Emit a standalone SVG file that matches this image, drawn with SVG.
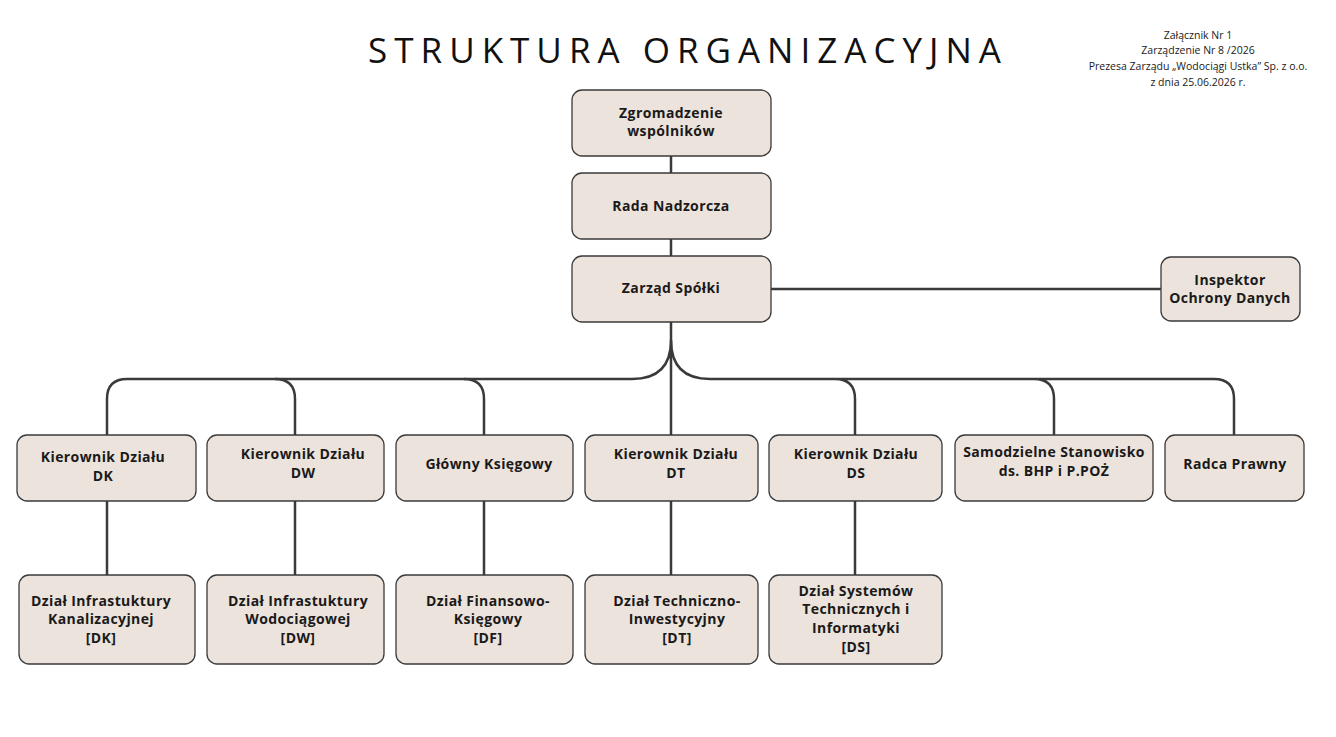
<svg xmlns="http://www.w3.org/2000/svg" width="1336" height="737" viewBox="0 0 1336 737">
<style>
.b{fill:#ece3dc;stroke:#3a3a3a;stroke-width:1.3}
.t{font-family:"Open Sans","DejaVu Sans",sans-serif;font-weight:bold;font-size:14px;fill:#1a1a1a;text-anchor:middle;letter-spacing:0.4px}
.c{fill:none;stroke:#3a3a3a;stroke-width:2.5}
.n{font-family:"Open Sans","DejaVu Sans",sans-serif;font-size:10.5px;fill:#1a1a1a;text-anchor:middle}
</style>
<rect width="1336" height="737" fill="#fff"/>
<text x="688" y="63" style="font-family:'Open Sans','DejaVu Sans',sans-serif;font-size:35px;letter-spacing:7px;fill:#111" text-anchor="middle">STRUKTURA ORGANIZACYJNA</text>
<text class="n"><tspan x="1198" y="39">Załącznik Nr 1</tspan><tspan x="1198" y="54">Zarządzenie Nr 8 /2026</tspan><tspan x="1198" y="70">Prezesa Zarządu „Wodociągi Ustka” Sp. z o.o.</tspan><tspan x="1198" y="86">z dnia 25.06.2026 r.</tspan></text>
<g id="connectors">
<path class="c" d="M671 156V173M671 239V256M771 289H1161"/>
<path class="c" d="M671 322V435M671 340Q671 379 632 379H127Q107 379 107 399V435M295 379Q275 379 275 379"/>
<path class="c" d="M275 379Q295 379 295 399V435M464 379Q484 379 484 399V435"/>
<path class="c" d="M671 340Q671 379 710 379H1214Q1234 379 1234 399V435M835 379Q855 379 855 399V435M1034 379Q1054 379 1054 399V435"/>
<path class="c" d="M107 501V575M295 501V575M484 501V575M671 501V575M855 501V575" stroke-width="2"/>
</g>
<g id="n1"><rect class="b" x="572" y="90" width="199" height="66" rx="10"/><text class="t"><tspan x="671" y="118">Zgromadzenie</tspan><tspan x="671" y="136">wspólników</tspan></text></g>
<g id="n2"><rect class="b" x="572" y="173" width="199" height="66" rx="10"/><text class="t" x="671" y="211">Rada Nadzorcza</text></g>
<g id="n3"><rect class="b" x="572" y="256" width="199" height="66" rx="10"/><text class="t" x="671" y="293">Zarząd Spółki</text></g>
<g id="n4"><rect class="b" x="1161" y="257" width="139" height="64" rx="10"/><text class="t"><tspan x="1230" y="285">Inspektor</tspan><tspan x="1230" y="303">Ochrony Danych</tspan></text></g>
<g id="n5"><rect class="b" x="17" y="435" width="179" height="66" rx="10"/><text class="t"><tspan x="103" y="462">Kierownik Działu</tspan><tspan x="103" y="481">DK</tspan></text></g>
<g id="n6"><rect class="b" x="207" y="435" width="177" height="66" rx="10"/><text class="t"><tspan x="303" y="459">Kierownik Działu</tspan><tspan x="303" y="478">DW</tspan></text></g>
<g id="n7"><rect class="b" x="396" y="435" width="177" height="66" rx="10"/><text class="t" x="489" y="469">Główny Księgowy</text></g>
<g id="n8"><rect class="b" x="585" y="435" width="173" height="66" rx="10"/><text class="t"><tspan x="676" y="459">Kierownik Działu</tspan><tspan x="676" y="478">DT</tspan></text></g>
<g id="n9"><rect class="b" x="769" y="435" width="173" height="66" rx="10"/><text class="t"><tspan x="856" y="459">Kierownik Działu</tspan><tspan x="856" y="478">DS</tspan></text></g>
<g id="n10"><rect class="b" x="955" y="435" width="198" height="66" rx="10"/><text class="t"><tspan x="1054" y="457">Samodzielne Stanowisko</tspan><tspan x="1054" y="476">ds. BHP i P.POŻ</tspan></text></g>
<g id="n11"><rect class="b" x="1165" y="435" width="139" height="66" rx="10"/><text class="t" x="1235" y="469">Radca Prawny</text></g>
<g id="n12"><rect class="b" x="19" y="575" width="176" height="89" rx="10"/><text class="t"><tspan x="101" y="606">Dział Infrastuktury</tspan><tspan x="101" y="624">Kanalizacyjnej</tspan><tspan x="101" y="643">[DK]</tspan></text></g>
<g id="n13"><rect class="b" x="207" y="575" width="177" height="89" rx="10"/><text class="t"><tspan x="298" y="606">Dział Infrastuktury</tspan><tspan x="298" y="624">Wodociągowej</tspan><tspan x="298" y="643">[DW]</tspan></text></g>
<g id="n14"><rect class="b" x="396" y="575" width="177" height="89" rx="10"/><text class="t"><tspan x="488" y="606">Dział Finansowo-</tspan><tspan x="488" y="624">Księgowy</tspan><tspan x="488" y="643">[DF]</tspan></text></g>
<g id="n15"><rect class="b" x="585" y="575" width="173" height="89" rx="10"/><text class="t"><tspan x="677" y="606">Dział Techniczno-</tspan><tspan x="677" y="624">Inwestycyjny</tspan><tspan x="677" y="643">[DT]</tspan></text></g>
<g id="n16"><rect class="b" x="769" y="575" width="173" height="89" rx="10"/><text class="t"><tspan x="856" y="596">Dział Systemów</tspan><tspan x="856" y="614">Technicznych i</tspan><tspan x="856" y="633">Informatyki</tspan><tspan x="856" y="652">[DS]</tspan></text></g>
</svg>
